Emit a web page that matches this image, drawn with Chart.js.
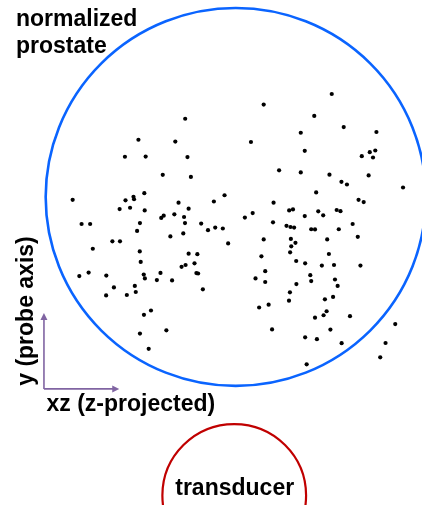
<!DOCTYPE html>
<html>
<head>
<meta charset="utf-8">
<script src="https://cdn.jsdelivr.net/npm/chart.js@4/dist/chart.umd.min.js"></script>
<style>
  html, body { margin: 0; padding: 0; background: #ffffff; }
  #wrap { width: 422px; height: 505px; position: relative; }
</style>
</head>
<body>
<div id="wrap"><canvas id="c"></canvas></div>
<script>
// Normalized coordinates: prostate is the unit circle centred at (0,0)
const ptX = [
  -0.266,-0.512,-0.318,-0.583,-0.474,-0.254,-0.384,-0.236,-0.858,-0.481,
  -0.538,-0.535,-0.580,-0.059,-0.115,-0.301,-0.611,-0.556,-0.479,-0.248,
  -0.323,-0.379,-0.392,-0.272,-0.811,-0.766,-0.504,-0.267,-0.182,-0.108,
  -0.068,-0.146,-0.519,-0.276,-0.344,-0.649,-0.609,-0.040,-0.752,-0.505,
  -0.248,-0.202,-0.500,-0.217,-0.264,-0.285,-0.774,-0.823,-0.681,-0.484,
  -0.396,-0.207,-0.198,-0.478,-0.415,-0.335,-0.641,-0.531,-0.526,-0.682,
  -0.573,-0.173,-0.446,-0.483,-0.365,-0.504,-0.458,
  0.505,0.147,0.413,0.568,0.342,0.740,0.080,0.363,0.705,0.734,
  0.663,0.722,0.228,0.342,0.493,0.699,0.880,0.556,0.585,0.423,
  0.199,0.646,0.673,0.281,0.301,0.434,0.531,0.551,0.089,0.048,
  0.363,0.460,0.196,0.267,0.288,0.307,0.397,0.417,0.542,0.615,
  0.642,0.147,0.290,0.314,0.292,0.481,0.286,0.490,0.135,0.318,
  0.365,0.453,0.517,0.656,0.155,0.104,0.155,0.392,0.397,0.522,
  0.319,0.536,0.285,0.280,0.512,0.469,0.123,0.173,0.478,0.462,
  0.417,0.601,0.191,0.498,0.365,0.427,0.557,0.839,0.788,0.760,
  0.373
];
const ptY = [
  0.414,0.303,0.293,0.213,0.214,0.211,0.117,0.106,-0.015,0.020,
  0.001,-0.012,-0.018,0.009,-0.024,-0.030,-0.064,-0.057,-0.071,-0.062,
  -0.092,-0.099,-0.111,-0.106,-0.143,-0.143,-0.138,-0.138,-0.141,-0.162,
  -0.167,-0.176,-0.180,-0.193,-0.209,-0.235,-0.235,-0.246,-0.274,-0.288,
  -0.300,-0.303,-0.344,-0.351,-0.360,-0.370,-0.400,-0.419,-0.416,-0.411,
  -0.402,-0.403,-0.405,-0.431,-0.440,-0.442,-0.479,-0.471,-0.503,-0.521,
  -0.519,-0.489,-0.601,-0.624,-0.706,-0.723,-0.804,
  0.545,0.489,0.429,0.370,0.340,0.344,0.291,0.244,0.237,0.246,
  0.216,0.209,0.141,0.130,0.118,0.114,0.050,0.080,0.066,0.024,
  -0.030,-0.015,-0.027,-0.071,-0.066,-0.076,-0.069,-0.075,-0.085,-0.109,
  -0.101,-0.097,-0.134,-0.153,-0.159,-0.162,-0.171,-0.172,-0.171,-0.143,
  -0.211,-0.225,-0.222,-0.243,-0.261,-0.225,-0.293,-0.302,-0.314,-0.339,
  -0.351,-0.363,-0.360,-0.363,-0.393,-0.431,-0.450,-0.414,-0.445,-0.437,
  -0.461,-0.471,-0.505,-0.549,-0.529,-0.542,-0.585,-0.570,-0.605,-0.626,
  -0.639,-0.631,-0.701,-0.702,-0.743,-0.753,-0.774,-0.673,-0.773,-0.849,
  -0.886
];
// shapes in data units: [centerX, centerY, radius]
const prostate = [0, 0, 1];
const transducer = [-0.008, -1.58, 0.378];
// axis indicator: [originX, originY, tipX (xz), tipY (y)]
const axisGlyph = [-1.009, -1.016, -0.613, -0.614];
const labels = {
  prostate: ["normalized", "prostate"],
  yAxis: "y (probe axis)",
  xAxis: "xz (z-projected)",
  probe: "transducer"
};

const points = ptX.map((x, i) => ({ x: x, y: ptY[i] }));

const FONT = "bold 23px 'Liberation Sans', Arial, sans-serif";

function drawArrow(ctx, x0, y0, x1, y1, color) {
  const ang = Math.atan2(y1 - y0, x1 - x0);
  const len = 7, hw = 3.5;
  ctx.save();
  ctx.strokeStyle = color;
  ctx.fillStyle = color;
  ctx.lineWidth = 1.6;
  ctx.beginPath();
  ctx.moveTo(x0, y0);
  ctx.lineTo(x1 - Math.cos(ang) * (len - 1), y1 - Math.sin(ang) * (len - 1));
  ctx.stroke();
  ctx.beginPath();
  ctx.moveTo(x1, y1);
  ctx.lineTo(x1 - Math.cos(ang) * len - Math.sin(ang) * hw, y1 - Math.sin(ang) * len + Math.cos(ang) * hw);
  ctx.lineTo(x1 - Math.cos(ang) * len + Math.sin(ang) * hw, y1 - Math.sin(ang) * len - Math.cos(ang) * hw);
  ctx.closePath();
  ctx.fill();
  ctx.restore();
}

const shapesPlugin = {
  id: 'shapes',
  beforeDatasetsDraw(chart) {
    const ctx = chart.ctx;
    const xs = chart.scales.x, ys = chart.scales.y;
    const ell = (c, color, w) => {
      const cx = xs.getPixelForValue(c[0]);
      const cy = ys.getPixelForValue(c[1]);
      const rx = Math.abs(xs.getPixelForValue(c[0] + c[2]) - cx);
      const ry = Math.abs(ys.getPixelForValue(c[1] + c[2]) - cy);
      ctx.save();
      ctx.strokeStyle = color;
      ctx.lineWidth = w;
      ctx.beginPath();
      ctx.ellipse(cx, cy, rx, ry, 0, 0, Math.PI * 2);
      ctx.stroke();
      ctx.restore();
    };
    ell(prostate, '#0a64ff', 2.6);
    ell(transducer, '#c00000', 2.2);
  },
  afterDraw(chart) {
    const ctx = chart.ctx;
    const xs = chart.scales.x, ys = chart.scales.y;
    const ox = xs.getPixelForValue(axisGlyph[0]);
    const oy = ys.getPixelForValue(axisGlyph[1]);
    const tx = xs.getPixelForValue(axisGlyph[2]);
    const ty = ys.getPixelForValue(axisGlyph[3]);
    drawArrow(ctx, ox, oy, ox, ty, '#8064a2');
    drawArrow(ctx, ox, oy, tx, oy, '#8064a2');

    ctx.save();
    ctx.fillStyle = '#000000';
    ctx.font = FONT;
    ctx.textAlign = 'left';
    ctx.textBaseline = 'alphabetic';
    ctx.fillText(labels.prostate[0], 16, 26);
    ctx.fillText(labels.prostate[1], 16, 52.5);
    ctx.fillText(labels.xAxis, 46.5, 411);
    ctx.textAlign = 'center';
    ctx.fillText(labels.probe, 234.7, 495);
    ctx.translate(33.3, 311);
    ctx.rotate(-Math.PI / 2);
    ctx.fillText(labels.yAxis, 0, 0);
    ctx.restore();
  }
};

new Chart(document.getElementById('c'), {
  type: 'scatter',
  data: {
    datasets: [{
      data: points,
      pointRadius: 2.1,
      pointHoverRadius: 2.1,
      pointBackgroundColor: '#000000',
      pointBorderWidth: 0,
      showLine: false
    }]
  },
  options: {
    responsive: true,
    maintainAspectRatio: false,
    animation: false,
    devicePixelRatio: 1,
    layout: { padding: 0 },
    plugins: { legend: { display: false }, tooltip: { enabled: false }, title: { display: false } },
    scales: {
      x: { type: 'linear', display: false, min: -1.2292, max: 0.96875 },
      y: { type: 'linear', display: false, min: -1.6194, max: 1.0315 }
    }
  },
  plugins: [shapesPlugin]
});
</script>
</body>
</html>
